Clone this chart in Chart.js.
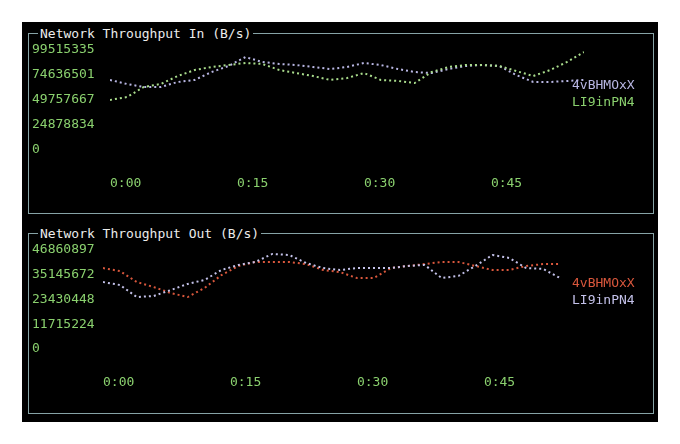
<!DOCTYPE html>
<html>
<head>
<meta charset="utf-8">
<script src="https://cdn.jsdelivr.net/npm/chart.js@4"></script>
<style>
  body { margin: 0; background: #fff; width: 680px; height: 444px; position: relative; overflow: hidden;
         font-family: "DejaVu Sans Mono", monospace; font-size: 13px; }
  #term { position: absolute; left: 22px; top: 22px; width: 636px; height: 400px; background: #000; }
  .panel { position: absolute; left: 28px; width: 624px; height: 179px; border: 1px solid #86a3a6; }
  .panel canvas { position: absolute; left: 0; top: 0; }
  .title { position: absolute; left: 9px; top: -9px; background: #000; color: #ececec; padding: 0 2px; line-height: 17px; }
  .legend { position: absolute; left: 543px; line-height: 16.5px; }
</style>
</head>
<body>
<div id="term"></div>
<div class="panel" style="top:33px">
  <span class="title">Network Throughput In (B/s)</span>
  <canvas id="chartIn" width="624" height="179"></canvas>
  <div class="legend" style="top:43px">
    <div style="color:#b9b7e4">4vBHMOxX</div>
    <div style="color:#8ad06e">LI9inPN4</div>
  </div>
</div>
<div class="panel" style="top:233px">
  <span class="title">Network Throughput Out (B/s)</span>
  <canvas id="chartOut" width="624" height="179"></canvas>
  <div class="legend" style="top:41px">
    <div style="color:#d9573c">4vBHMOxX</div>
    <div style="color:#c4c2ea">LI9inPN4</div>
  </div>
</div>
<script>
// time axis (seconds)
const seconds = [0, 2, 4, 6, 8, 10, 12, 14, 16, 18, 20, 22, 24, 26, 28, 30, 32, 34, 36, 38, 40, 42, 44, 46, 48, 50, 52, 54, 56];
const timeTicks = [0, 15, 30, 45];

// Network Throughput In
const inTicks = [0, 24878834, 49757667, 74636501, 99515335];
const in4vBHMOxX = [69700000, 65700000, 62700000, 62700000, 67700000, 69700000, 77600000, 83600000, 92500000, 87600000,
  85600000, 84600000, 82600000, 80600000, 82600000, 86600000, 84600000, 80600000, 77600000, 76600000,
  80600000, 83600000, 84600000, 83600000, 74600000, 67700000, 67700000, 68700000, 69700000];
const inLI9inPN4 = [49800000, 52700000, 62700000, 65700000, 73600000, 79600000, 82600000, 84600000, 86600000, 85600000,
  79600000, 76600000, 73600000, 69700000, 71600000, 76600000, 69700000, 68700000, 66700000, 77600000,
  82600000, 84600000, 84600000, 83600000, 78600000, 73600000, 79600000, 87600000, 97500000];

// Network Throughput Out
const outTicks = [0, 11715224, 23430448, 35145672, 46860897];
const out4vBHMOxX = [38300000, 36900000, 31700000, 29300000, 26500000, 24600000, 28900000, 35000000, 39300000, 41200000,
  41200000, 41200000, 40200000, 37400000, 36400000, 33600000, 33600000, 38300000, 39300000, 40200000,
  41200000, 41200000, 39300000, 37400000, 37400000, 39300000, 40200000, 40200000];
const outLI9inPN4 = [31700000, 30300000, 24600000, 25100000, 27900000, 30800000, 32700000, 37400000, 39800000, 41200000,
  45000000, 44500000, 40700000, 38300000, 37400000, 38300000, 38300000, 38300000, 39300000, 39800000,
  33600000, 34600000, 39300000, 44500000, 43100000, 38300000, 37900000, 33600000];

const GREEN = "#8ad06e";
Chart.defaults.font.family = "'DejaVu Sans Mono', monospace";
Chart.defaults.font.size = 13;

function series(label, values, color, order) {
  return {
    label: label,
    data: values.map((v, i) => ({ x: seconds[i], y: v })),
    borderColor: color,
    borderWidth: 2,
    borderDash: [2, 3],
    pointRadius: 0,
    fill: false,
    tension: 0,
    order: order,
  };
}

function makeChart(id, yTicks, datasets, pad, axisW, axisH, labelPad) {
  return new Chart(document.getElementById(id), {
    type: "line",
    data: { datasets: datasets },
    options: {
      responsive: false,
      animation: false,
      layout: { padding: pad },
      plugins: { legend: { display: false }, tooltip: { enabled: false } },
      scales: {
        x: {
          type: "linear",
          min: 0,
          max: 56,
          grid: { display: false },
          border: { display: false },
          afterBuildTicks: (s) => { s.ticks = timeTicks.map((v) => ({ value: v })); },
          afterFit: (s) => { s.height = axisH; },
          ticks: {
            color: GREEN,
            align: "start",
            padding: labelPad,
            maxRotation: 0,
            callback: (v) => "0:" + String(v).padStart(2, "0"),
          },
        },
        y: {
          min: 0,
          max: yTicks[yTicks.length - 1],
          grid: { display: false },
          border: { display: false },
          afterBuildTicks: (s) => { s.ticks = yTicks.map((v) => ({ value: v })); },
          afterFit: (s) => { s.width = axisW; },
          ticks: {
            color: GREEN,
            crossAlign: "far",
            padding: 0,
            callback: (v) => String(v),
          },
        },
      },
    },
  });
}

makeChart("chartIn", inTicks, [
  series("4vBHMOxX", in4vBHMOxX, "#b9b7e4", 2),
  series("LI9inPN4", inLI9inPN4, "#a9dc8c", 1),
], { left: 3, right: 69, top: 16, bottom: 0 }, 78, 63, 18);

makeChart("chartOut", outTicks, [
  series("4vBHMOxX", out4vBHMOxX, "#d9573c", 2),
  series("LI9inPN4", outLI9inPN4, "#c4c2ea", 1),
], { left: 3, right: 76, top: 16, bottom: 0 }, 71, 64, 18);
</script>
</body>
</html>
